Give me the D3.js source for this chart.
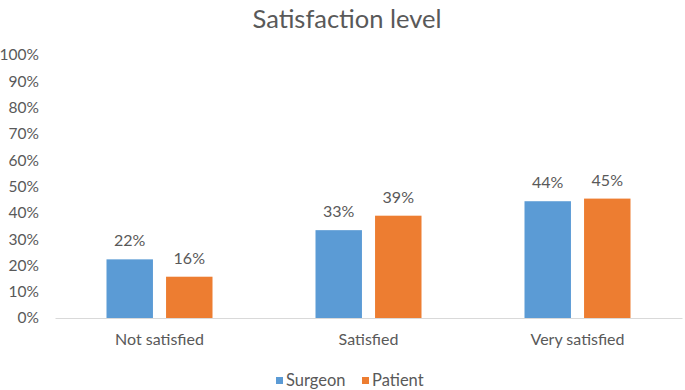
<!DOCTYPE html>
<html>
<head>
<meta charset="utf-8">
<script src="https://cdn.jsdelivr.net/npm/d3@7"></script>
<style>
  body { margin: 0; background: #fff; }
  svg text { font-family: Lato, "Open Sans", sans-serif; fill: #595959; }
</style>
</head>
<body>
<div id="chart"></div>
<script>
// chart data
const categories = ["Not satisfied", "Satisfied", "Very satisfied"];
const seriesNames = ["Surgeon", "Patient"];
const surgeonValues = [0.223, 0.334, 0.444];
const patientValues = [0.157, 0.389, 0.454];
const yTicks = [0, 0.1, 0.2, 0.3, 0.4, 0.5, 0.6, 0.7, 0.8, 0.9, 1];
const colors = ["#5B9BD5", "#ED7D31"];

const width = 685, height = 390;
const plot = { left: 55, right: 682, top: 55, bottom: 318 };

const svg = d3.select("#chart")
  .append("svg")
  .attr("width", width)
  .attr("height", height);

// title
svg.append("text")
  .attr("x", 347)
  .attr("y", 28)
  .attr("text-anchor", "middle")
  .style("font-size", "25.5px")
  .text("Satisfaction level");

// scales
const x0 = d3.scaleBand().domain(categories).range([plot.left, plot.right]);
const groupWidth = 106;
const x1 = d3.scaleBand().domain(seriesNames).range([0, groupWidth]).paddingInner(0.22);
const y = d3.scaleLinear().domain([0, 1]).range([plot.bottom, plot.top]);
const color = d3.scaleOrdinal().domain(seriesNames).range(colors);

// y axis (labels only)
const yAxis = d3.axisLeft(y).tickValues(yTicks).tickFormat(d3.format(".0%")).tickSize(0).tickPadding(0);
const yAxisGroup = svg.append("g")
  .attr("transform", "translate(39,0)")
  .call(yAxis);
yAxisGroup.select(".domain").remove();
yAxisGroup.selectAll(".tick text")
  .style("font-size", "15.5px")
  .attr("fill", "#595959");

// x axis
const xAxisGroup = svg.append("g")
  .attr("transform", `translate(0,${plot.bottom})`)
  .call(d3.axisBottom(x0).tickSize(0).tickPadding(16));
xAxisGroup.select(".domain").attr("stroke", "#D9D9D9").attr("stroke-width", 1);
xAxisGroup.selectAll(".tick text")
  .style("font-size", "16px")
  .attr("fill", "#595959");

// rows of data
const rows = categories.map((c, i) => ({
  category: c,
  values: [
    { name: seriesNames[0], value: surgeonValues[i] },
    { name: seriesNames[1], value: patientValues[i] }
  ]
}));

const groups = svg.append("g")
  .selectAll("g")
  .data(rows)
  .join("g")
  .attr("transform", d => `translate(${x0(d.category) + (x0.bandwidth() - groupWidth) / 2},0)`);

groups.selectAll("rect")
  .data(d => d.values)
  .join("rect")
  .attr("x", d => x1(d.name))
  .attr("y", d => y(d.value))
  .attr("width", x1.bandwidth())
  .attr("height", d => y(0) - y(d.value))
  .attr("fill", d => color(d.name));

groups.selectAll("text")
  .data(d => d.values)
  .join("text")
  .attr("x", d => x1(d.name) + x1.bandwidth() / 2)
  .attr("y", d => y(d.value) - 13)
  .attr("text-anchor", "middle")
  .style("font-size", "16px")
  .text(d => d3.format(".0%")(d.value));

// legend
const legendX = [276, 362];
const legend = svg.append("g")
  .selectAll("g")
  .data(seriesNames)
  .join("g")
  .attr("transform", (d, i) => `translate(${legendX[i]},377)`);

legend.append("rect")
  .attr("width", 7)
  .attr("height", 7)
  .attr("fill", d => color(d));

legend.append("text")
  .attr("x", 10)
  .attr("y", 9)
  .style("font-size", "16.5px")
  .text(d => d);
</script>
</body>
</html>
